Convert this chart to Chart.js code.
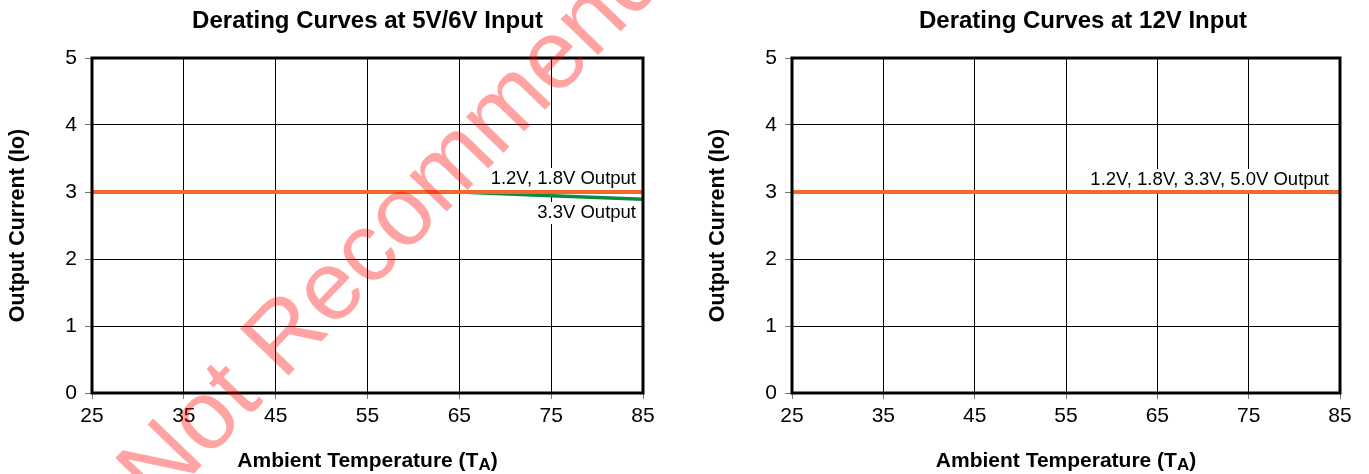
<!DOCTYPE html>
<html>
<head>
<meta charset="utf-8">
<script src="https://cdn.jsdelivr.net/npm/chart.js@4.4.1/dist/chart.umd.min.js"></script>
<style>
    body { margin: 0; background: #fff; }
    .box { position: absolute; top: 0; height: 474px; }
    #leftBox { left: 0; width: 690px; }
    #rightBox { left: 700px; width: 669px; }
</style>
</head>
<body>
<div class="box" id="leftBox"><canvas id="chart5v"></canvas></div>
<div class="box" id="rightBox"><canvas id="chart12v"></canvas></div>
<script>
// derating data
const xTickValues = [25, 35, 45, 55, 65, 75, 85];
const yTickValues = [0, 1, 2, 3, 4, 5];

const temp5vLow = [25, 85];
const current5vLow = [3, 3];           // 1.2V, 1.8V output
const temp5v33 = [65, 75, 85];
const current5v33 = [3.0, 2.945, 2.89]; // 3.3V output

const temp12v = [25, 85];
const current12v = [3, 3];             // all outputs

const ORANGE = '#f26a2a';
const GREEN = '#0a8a45';
const FONT = '"Liberation Sans", Arial, sans-serif';

function pts(xs, ys) {
    return xs.map((x, i) => ({ x: x, y: ys[i] }));
}

const framePlugin = {
    id: 'frame',
    afterDatasetsDraw(chart) {
        const a = chart.chartArea;
        const ctx = chart.ctx;
        ctx.save();
        ctx.strokeStyle = '#000';
        ctx.lineWidth = 3;
        ctx.strokeRect(a.left, a.top, a.right - a.left, a.bottom - a.top);
        ctx.restore();
    }
};

// chart title, centred over the plot with a small shift
const topTitle = {
    id: 'topTitle',
    afterDraw(chart, args, opts) {
        const ctx = chart.ctx;
        const a = chart.chartArea;
        ctx.save();
        ctx.fillStyle = '#000';
        ctx.font = 'bold 24px ' + FONT;
        ctx.textAlign = 'center';
        ctx.textBaseline = 'alphabetic';
        ctx.fillText(opts.text, (a.left + a.right) / 2 + (opts.dx || 0), 28);
        ctx.restore();
    }
};

// x title with subscript A
const xTitlePlugin = {
    id: 'xTitle',
    afterDraw(chart) {
        const ctx = chart.ctx;
        const a = chart.chartArea;
        const main = 'Ambient Temperature (T';
        const sub = 'A';
        const big = 'bold 21px ' + FONT;
        const small = 'bold 17px ' + FONT;
        ctx.save();
        ctx.fillStyle = '#000';
        ctx.textBaseline = 'alphabetic';
        ctx.font = big;
        const w1 = ctx.measureText(main).width;
        const w3 = ctx.measureText(')').width;
        ctx.font = small;
        const w2 = ctx.measureText(sub).width;
        let x = (a.left + a.right) / 2 - (w1 + w2 + w3) / 2;
        const y = 467;
        ctx.font = big;
        ctx.fillText(main, x, y);
        x += w1;
        ctx.font = small;
        ctx.fillText(sub, x, y + 3);
        x += w2;
        ctx.font = big;
        ctx.fillText(')', x, y);
        ctx.restore();
    }
};

// text labels next to the curves, placed from the scales
const curveLabels = {
    id: 'curveLabels',
    beforeDatasetsDraw(chart, args, opts) {
        const ctx = chart.ctx;
        const xs = chart.scales.x;
        const ys = chart.scales.y;
        ctx.save();
        ctx.font = '18.5px ' + FONT;
        ctx.textAlign = 'right';
        ctx.textBaseline = 'middle';
        (opts.items || []).forEach(it => {
            const px = xs.getPixelForValue(it.x) + it.dx;
            const py = ys.getPixelForValue(it.y) + it.dy;
            const w = ctx.measureText(it.text).width;
            ctx.fillStyle = '#fff';
            ctx.fillRect(px - w - 3, py - 11, w + 6, 22);
            ctx.fillStyle = '#000';
            ctx.fillText(it.text, px, py);
        });
        ctx.restore();
    }
};

const watermark = {
    id: 'watermark',
    afterDraw(chart, args, opts) {
        if (!opts.text) return;
        const ctx = chart.ctx;
        ctx.save();
        ctx.translate(opts.cx, opts.cy);
        ctx.rotate(-opts.angle * Math.PI / 180);
        ctx.font = opts.size + 'px ' + FONT;
        ctx.fillStyle = 'rgba(255, 0, 0, 0.36)';
        ctx.textAlign = 'center';
        ctx.textBaseline = 'middle';
        ctx.fillText(opts.text, 0, 0);
        ctx.restore();
    }
};

function makeOptions(title, titleDx, rightPad, labels, mark) {
    return {
        responsive: true,
        maintainAspectRatio: false,
        animation: false,
        layout: { padding: { left: 0, right: rightPad, top: 58, bottom: 0 } },
        plugins: {
            legend: { display: false },
            tooltip: { enabled: false },
            title: { display: false },
            topTitle: { text: title, dx: titleDx },
            curveLabels: { items: labels },
            watermark: mark
        },
        scales: {
            x: {
                type: 'linear',
                min: 25,
                max: 85,
                afterBuildTicks: s => { s.ticks = xTickValues.map(v => ({ value: v })); },
                afterFit: s => { s.height = 81; },
                grid: { color: '#000', lineWidth: 1, tickLength: 6, tickColor: '#777' },
                border: { display: false },
                ticks: { color: '#000', padding: 5, font: { family: FONT, size: 21 }, maxRotation: 0 }
            },
            y: {
                min: 0,
                max: 5,
                afterBuildTicks: s => { s.ticks = yTickValues.map(v => ({ value: v })); },
                afterFit: s => { s.width = 92; },
                grid: { color: '#000', lineWidth: 1, tickLength: 7, tickColor: '#777' },
                border: { display: false },
                ticks: { color: '#000', padding: 8, font: { family: FONT, size: 21 } },
                title: {
                    display: true,
                    text: 'Output Current (Io)',
                    color: '#000',
                    font: { family: FONT, size: 21.5, weight: 'bold' },
                    padding: { top: 5, bottom: 0 }
                }
            }
        }
    };
}

new Chart(document.getElementById('chart5v'), {
    type: 'line',
    data: {
        datasets: [
            {
                label: '1.2V, 1.8V Output',
                data: pts(temp5vLow, current5vLow),
                borderColor: ORANGE,
                borderWidth: 4,
                pointRadius: 0,
                order: 1
            },
            {
                label: '3.3V Output',
                data: pts(temp5v33, current5v33),
                borderColor: GREEN,
                borderWidth: 3.5,
                pointRadius: 0,
                order: 2
            }
        ]
    },
    options: makeOptions('Derating Curves at 5V/6V Input', 0, 47, [
        { text: '1.2V, 1.8V Output', x: 85, y: 3, dx: -7, dy: -13 },
        { text: '3.3V Output', x: 85, y: 3, dx: -7, dy: 21 }
    ], { text: 'Not Recommended', cx: 432, cy: 188, angle: 46, size: 98 }),
    plugins: [framePlugin, topTitle, xTitlePlugin, curveLabels, watermark]
});

new Chart(document.getElementById('chart12v'), {
    type: 'line',
    data: {
        datasets: [
            {
                label: '1.2V, 1.8V, 3.3V, 5.0V Output',
                data: pts(temp12v, current12v),
                borderColor: ORANGE,
                borderWidth: 4,
                pointRadius: 0
            }
        ]
    },
    options: makeOptions('Derating Curves at 12V Input', 17, 29, [
        { text: '1.2V, 1.8V, 3.3V, 5.0V Output', x: 85, y: 3, dx: -11, dy: -12 }
    ], {}),
    plugins: [framePlugin, topTitle, xTitlePlugin, curveLabels, watermark]
});
</script>
</body>
</html>
